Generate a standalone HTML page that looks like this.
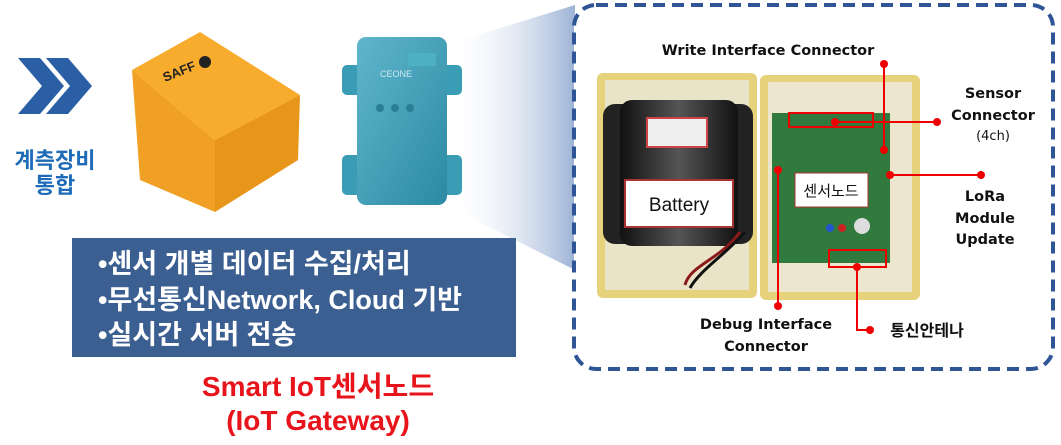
<!DOCTYPE html>
<html><head><meta charset="utf-8"><style>
html,body{margin:0;padding:0;background:#fff;}
body{width:1061px;height:445px;overflow:hidden;position:relative;font-family:"Liberation Sans","Noto Sans CJK KR",sans-serif;}
svg{position:absolute;left:0;top:0;}
</style></head><body>
<svg width="1061" height="445" viewBox="0 0 1061 445" xmlns="http://www.w3.org/2000/svg">
<defs>
<linearGradient id="wg" x1="0" x2="1" y1="0" y2="0">
<stop offset="0" stop-color="#ffffff" stop-opacity="0"/>
<stop offset="1" stop-color="#9db3d6"/>
</linearGradient>
<linearGradient id="teal" x1="0" x2="1" y1="0" y2="1">
<stop offset="0" stop-color="#5fb6cc"/>
<stop offset="1" stop-color="#2b8aa3"/>
</linearGradient>
<linearGradient id="bat" x1="0" x2="1">
<stop offset="0" stop-color="#111"/><stop offset="0.5" stop-color="#555"/><stop offset="1" stop-color="#111"/>
</linearGradient>
</defs>
<polygon points="445,45 575,5 575,270 445,205" fill="url(#wg)"/>
<polygon points="18,58 40,58 64,86 40,114 18,114 42,86" fill="#2a5fa6"/>
<polygon points="46,58 68,58 92,86 68,114 46,114 70,86" fill="#2a5fa6"/>
<text x="55" y="168" text-anchor="middle" font-size="22" font-weight="bold" fill="#1e6bb8" font-family="Liberation Sans,Noto Sans CJK KR,sans-serif">계측장비</text>
<text x="55" y="193" text-anchor="middle" font-size="22" font-weight="bold" fill="#1e6bb8" font-family="Liberation Sans,Noto Sans CJK KR,sans-serif">통합</text>
<path d="M155,168 q-5,10 5,14 l15,-2 z" fill="#e79a1c"/>
<polygon points="132,70 200,32 300,95 215,140" fill="#f7ac2e"/>
<polygon points="132,70 215,140 215,212 140,180" fill="#f0a125"/>
<polygon points="215,140 300,95 298,160 215,212" fill="#e8961a"/>
<text x="165" y="82" font-size="13" font-weight="bold" fill="#222" transform="rotate(-22 165 82)">SAFF</text>
<circle cx="205" cy="62" r="6" fill="#222"/>
<rect x="342" y="65" width="120" height="30" rx="5" fill="#3a9cb5"/>
<rect x="342" y="155" width="120" height="40" rx="5" fill="#3a9cb5"/>
<rect x="357" y="37" width="90" height="168" rx="9" fill="url(#teal)"/>
<rect x="408" y="53" width="28" height="13" fill="#4eb1c3"/>
<text x="380" y="77" font-size="9" fill="#cfe9f0">CEONE</text>
<circle cx="380" cy="108" r="4" fill="#2a7f98"/><circle cx="395" cy="108" r="4" fill="#2a7f98"/><circle cx="410" cy="108" r="4" fill="#2a7f98"/>
<rect x="72" y="238" width="444" height="119" fill="#3b5f91"/>
<g font-size="27" font-weight="bold" fill="#fff" font-family="Liberation Sans,Noto Sans CJK KR,sans-serif">
<text x="98" y="273">•센서 개별 데이터 수집/처리</text>
<text x="98" y="309">•무선통신Network, Cloud 기반</text>
<text x="98" y="344">•실시간 서버 전송</text>
</g>
<g font-size="28" font-weight="bold" fill="#e8141b" text-anchor="middle" font-family="Liberation Sans,Noto Sans CJK KR,sans-serif">
<text x="318" y="396">Smart IoT센서노드</text>
<text x="318" y="430">(IoT Gateway)</text>
</g>
<rect x="574" y="5" width="479" height="364" rx="22" fill="#fff" stroke="#2f5597" stroke-width="4" stroke-dasharray="12,7"/>
<rect x="597" y="73" width="160" height="225" rx="6" fill="#e5d27a"/>
<rect x="605" y="80" width="144" height="210" fill="#e9e3c8"/>
<rect x="760" y="75" width="160" height="225" rx="6" fill="#e5d27a"/>
<rect x="768" y="82" width="144" height="210" fill="#ece6cf"/>
<rect x="603" y="104" width="150" height="140" rx="12" fill="#222"/>
<rect x="620" y="100" width="118" height="146" rx="12" fill="url(#bat)"/>
<rect x="647" y="118" width="60" height="29" fill="#eee" stroke="#c44" stroke-width="2"/>
<path d="M740,232 C720,260 690,265 685,285" stroke="#8b1a1a" stroke-width="3" fill="none"/>
<path d="M745,232 C725,255 700,270 690,288" stroke="#111" stroke-width="3" fill="none"/>
<rect x="772" y="113" width="118" height="150" fill="#2f7a3c"/>
<rect x="625" y="180" width="108" height="47" fill="#fff" stroke="#a33" stroke-width="2"/>
<text x="679" y="211" text-anchor="middle" font-size="19" fill="#111">Battery</text>
<rect x="795" y="173" width="73" height="34" fill="#fff" stroke="#a33" stroke-width="1"/>
<text x="831" y="196" text-anchor="middle" font-size="15" fill="#111" font-family="Liberation Sans,Noto Sans CJK KR,sans-serif">센서노드</text>
<circle cx="830" cy="228" r="4" fill="#2255cc"/><circle cx="842" cy="228" r="4" fill="#cc2222"/>
<circle cx="862" cy="226" r="8" fill="#ddd"/>
<g stroke="#e00" stroke-width="2" fill="none">
<rect x="789" y="113" width="84" height="14"/>
<rect x="829" y="250" width="57" height="17"/>
<polyline points="835,122 937,122"/>
<polyline points="884,64 884,150"/>
<polyline points="890,175 981,175"/>
<polyline points="778,170 778,306"/>
<polyline points="857,267 857,330 870,330"/>
</g>
<g fill="#e00">
<circle cx="835" cy="122" r="4"/><circle cx="937" cy="122" r="4"/>
<circle cx="884" cy="64" r="4"/><circle cx="884" cy="150" r="4"/>
<circle cx="890" cy="175" r="4"/><circle cx="981" cy="175" r="4"/>
<circle cx="778" cy="170" r="4"/><circle cx="778" cy="306" r="4"/>
<circle cx="857" cy="267" r="4"/><circle cx="870" cy="330" r="4"/>
</g>
<g font-size="14.5" font-weight="bold" fill="#111" text-anchor="middle" font-family="DejaVu Sans,Liberation Sans,Noto Sans CJK KR,sans-serif">
<text x="768" y="55">Write Interface Connector</text>
<text x="993" y="98">Sensor</text>
<text x="993" y="120">Connector</text>
<text x="993" y="140" font-weight="normal" font-size="13">(4ch)</text>
<text x="985" y="201">LoRa</text>
<text x="985" y="223">Module</text>
<text x="985" y="244">Update</text>
<text x="766" y="329">Debug Interface</text>
<text x="766" y="351">Connector</text>
<text x="927" y="336" font-size="16">통신안테나</text>
</g>
</svg>
</body></html>
